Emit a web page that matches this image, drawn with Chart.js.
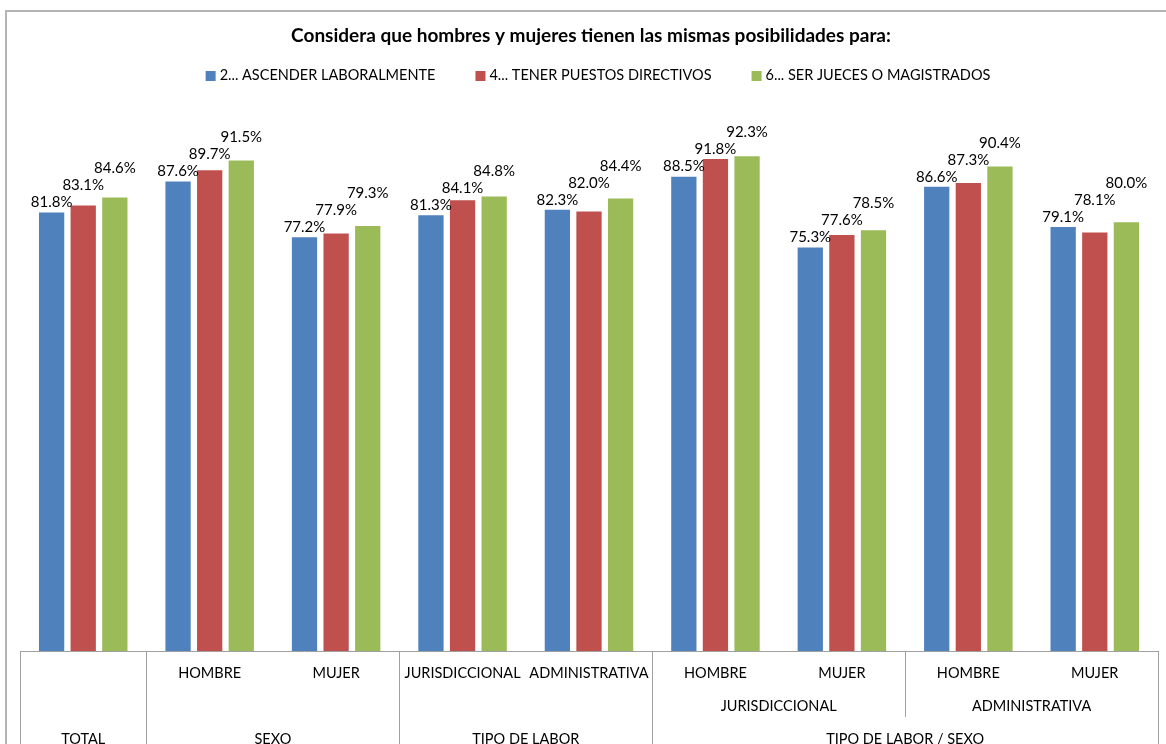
<!DOCTYPE html>
<html>
<head>
<meta charset="utf-8">
<title>Considera que hombres y mujeres tienen las mismas posibilidades para:</title>
<script src="https://cdn.jsdelivr.net/npm/chart.js@4.4.1/dist/chart.umd.min.js"></script>
<style>
  html, body { margin: 0; padding: 0; background: #ffffff; }
  #wrap { position: relative; width: 1166px; height: 744px; overflow: hidden; }
  canvas { display: block; }
</style>
</head>
<body>
<div id="wrap"><canvas id="chart" width="1166" height="744"></canvas></div>
<script>
// ---- data ----
const chartTitle = 'Considera que hombres y mujeres tienen las mismas posibilidades para:';
const seriesNames = ['2... ASCENDER LABORALMENTE', '4... TENER PUESTOS DIRECTIVOS', '6... SER JUECES O MAGISTRADOS'];
const seriesColors = ['#4F81BD', '#C0504D', '#9BBB59'];

// innermost category labels (one per bar group)
const categoryLabels = ['', 'HOMBRE', 'MUJER', 'JURISDICCIONAL', 'ADMINISTRATIVA', 'HOMBRE', 'MUJER', 'HOMBRE', 'MUJER'];
// second level: [label, first index, last index]
const middleGroups = [['JURISDICCIONAL', 5, 6], ['ADMINISTRATIVA', 7, 8]];
// outer level: [label, first index, last index]
const outerGroups = [['TOTAL', 0, 0], ['SEXO', 1, 2], ['TIPO DE LABOR', 3, 4], ['TIPO DE LABOR / SEXO', 5, 8]];

const ascender = [81.8, 87.6, 77.2, 81.3, 82.3, 88.5, 75.3, 86.6, 79.1];
const puestos  = [83.1, 89.7, 77.9, 84.1, 82.0, 91.8, 77.6, 87.3, 78.1];
const jueces   = [84.6, 91.5, 79.3, 84.8, 84.4, 92.3, 78.5, 90.4, 80.0];

const FONT = 'Lato, "Open Sans", sans-serif';

// Frame, title and legend
const headerPlugin = {
  id: 'header',
  beforeDraw(chart) {
    const ctx = chart.ctx;
    ctx.save();
    ctx.fillStyle = '#ffffff';
    ctx.fillRect(0, 0, chart.width, chart.height);
    // chart frame
    ctx.strokeStyle = '#b4b4b4';
    ctx.lineWidth = 2;
    ctx.beginPath();
    ctx.moveTo(6, chart.height + 5);
    ctx.lineTo(6, 11);
    ctx.lineTo(chart.width + 5, 11);
    ctx.stroke();
    // title
    ctx.fillStyle = '#000000';
    ctx.font = 'bold 19px ' + FONT;
    ctx.textAlign = 'center';
    ctx.textBaseline = 'middle';
    ctx.fillText(chartTitle, 591, 36);
    // legend, centred as one row
    ctx.font = '14.5px ' + FONT;
    ctx.textAlign = 'left';
    const box = 10, boxGap = 4, itemGap = 40;
    const widths = seriesNames.map(s => ctx.measureText(s).width);
    const total = widths.reduce((a, w) => a + box + boxGap + w, 0) + itemGap * (seriesNames.length - 1);
    let x = 598 - total / 2;
    const y = 76;
    seriesNames.forEach((name, i) => {
      ctx.fillStyle = seriesColors[i];
      ctx.fillRect(x, y - box / 2, box, box);
      ctx.fillStyle = '#000000';
      ctx.fillText(name, x + box + boxGap, y - 1);
      x += box + boxGap + widths[i] + itemGap;
    });
    ctx.restore();
  }
};

// Value labels above the bars; a label that would collide with an earlier
// label or a neighbouring bar is lifted until it is clear
const valueLabelPlugin = {
  id: 'valueLabels',
  afterDatasetsDraw(chart) {
    const ctx = chart.ctx;
    ctx.save();
    ctx.font = '15px ' + FONT;
    ctx.fillStyle = '#000000';
    ctx.textAlign = 'center';
    ctx.textBaseline = 'middle';
    const halfH = 7, step = 17, gap = 10, edgeSlack = 3;
    const n = chart.data.labels.length;
    const metas = chart.data.datasets.map((ds, d) => chart.getDatasetMeta(d));
    for (let i = 0; i < n; i++) {
      const bars = metas.map(m => m.data[i]);
      const placed = [];
      chart.data.datasets.forEach((ds, d) => {
        const bar = bars[d];
        const text = ds.data[i].toFixed(1) + '%';
        const w = ctx.measureText(text).width;
        const x = bar.x;
        let y = bar.y - gap;
        for (let guard = 0; guard < 12; guard++) {
          let changed = false;
          for (const p of placed) {
            if (Math.abs(p.x - x) < (p.w + w) / 2 && Math.abs(p.y - y) < step) {
              y = p.y - step; changed = true;
            }
          }
          for (const b of bars) {
            const overlapX = x + w / 2 > b.x - b.width / 2 + edgeSlack &&
                             x - w / 2 < b.x + b.width / 2 - edgeSlack;
            if (overlapX && y + halfH > b.y) { y = b.y - halfH - 1; changed = true; }
          }
          if (!changed) break;
        }
        placed.push({ x, y, w });
        ctx.fillText(text, x, y);
      });
    }
    ctx.restore();
  }
};

// Multi-level category table under the plot
const categoryTablePlugin = {
  id: 'categoryTable',
  afterDraw(chart) {
    const ctx = chart.ctx;
    const xs = chart.scales.x;
    const area = chart.chartArea;
    const n = chart.data.labels.length;
    const edge = (i) => {
      if (i <= 0) return area.left;
      if (i >= n) return area.right;
      return (xs.getPixelForValue(i - 1) + xs.getPixelForValue(i)) / 2;
    };
    const top = area.bottom;
    const rowY = [top + 22.5, top + 55.5, top + 88.5];
    const crisp = (v) => Math.round(v) + 0.5;

    ctx.save();
    ctx.strokeStyle = '#a0a0a0';
    ctx.lineWidth = 1;
    ctx.beginPath();
    ctx.moveTo(area.left, crisp(top));
    ctx.lineTo(area.right, crisp(top));
    outerGroups.forEach(([, a]) => {
      const x = crisp(edge(a));
      ctx.moveTo(x, top);
      ctx.lineTo(x, chart.height);
    });
    ctx.moveTo(crisp(area.right), top);
    ctx.lineTo(crisp(area.right), chart.height);
    middleGroups.forEach(([, a]) => {
      if (outerGroups.some(g => g[1] === a)) return;
      const x = crisp(edge(a));
      ctx.moveTo(x, top);
      ctx.lineTo(x, top + 66);
    });
    ctx.stroke();

    ctx.fillStyle = '#000000';
    ctx.font = '14.5px ' + FONT;
    ctx.textAlign = 'center';
    ctx.textBaseline = 'middle';
    categoryLabels.forEach((lab, i) => {
      if (lab) ctx.fillText(lab, xs.getPixelForValue(i), rowY[0]);
    });
    middleGroups.forEach(([lab, a, b]) => {
      ctx.fillText(lab, (edge(a) + edge(b + 1)) / 2, rowY[1]);
    });
    outerGroups.forEach(([lab, a, b]) => {
      ctx.fillText(lab, (edge(a) + edge(b + 1)) / 2, rowY[2]);
    });
    ctx.restore();
  }
};

const seriesValues = [ascender, puestos, jueces];

new Chart(document.getElementById('chart'), {
  type: 'bar',
  data: {
    labels: categoryLabels.map((l) => l || outerGroups[0][0]),
    datasets: seriesNames.map((name, i) => ({
      label: name,
      data: seriesValues[i],
      backgroundColor: seriesColors[i],
      borderWidth: 0,
      categoryPercentage: 0.75,
      barPercentage: 0.8
    }))
  },
  options: {
    responsive: false,
    animation: false,
    devicePixelRatio: 1,
    layout: { padding: { top: 115, bottom: 93, left: 20, right: 8 } },
    plugins: {
      legend: { display: false },
      title: { display: false },
      tooltip: { enabled: false }
    },
    scales: {
      x: { display: false, offset: true },
      y: { display: false, min: 0, max: 100 }
    }
  },
  plugins: [headerPlugin, valueLabelPlugin, categoryTablePlugin]
});
</script>
</body>
</html>
